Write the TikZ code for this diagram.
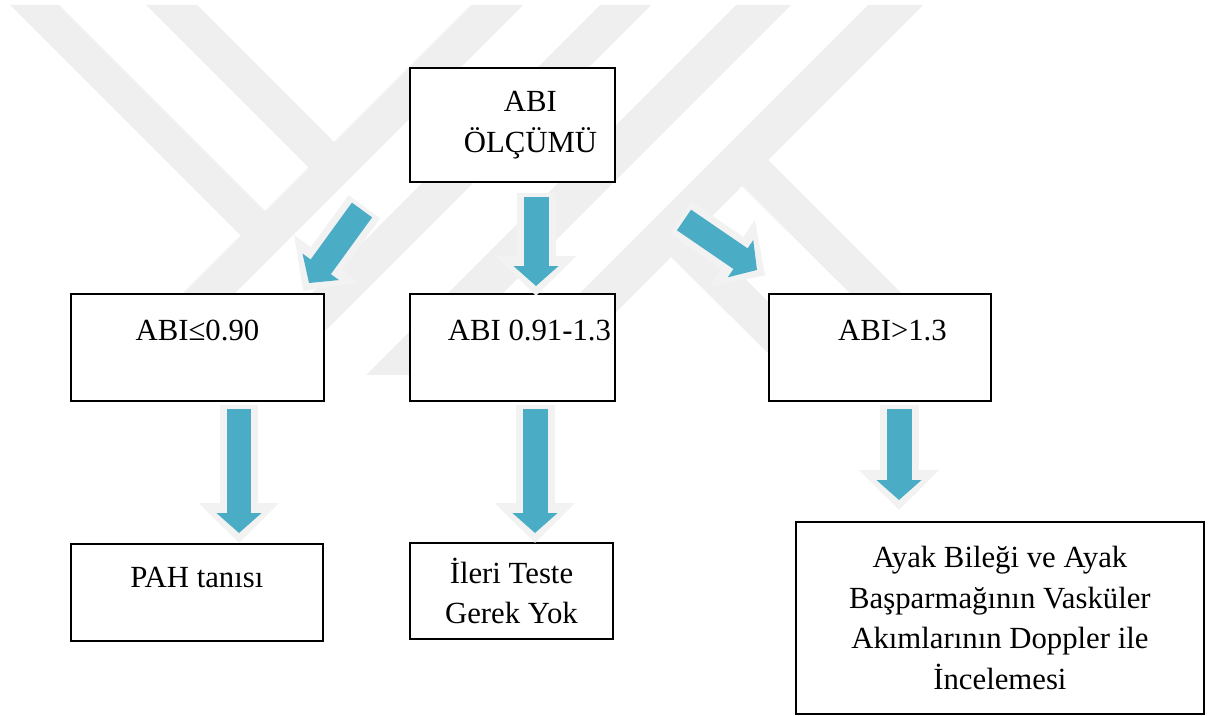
\documentclass[tikz,border=0pt]{standalone}
\usepackage{fontspec}
\setmainfont{Liberation Serif}
\usepackage{tikz}
\usetikzlibrary{arrows.meta, positioning}
\definecolor{yokgray}{RGB}{239,239,239}
\definecolor{glowgray}{RGB}{242,242,242}
\definecolor{flowblue}{RGB}{75,172,198}
\newcommand{\indentr}[1]{\hspace*{#1}} % pushes a centred line to the right
\tikzset{
box/.style={draw, line width=1.1pt, fill=white, inner sep=0pt, anchor=north west, align=center, font=\fontsize{17.5pt}{23pt}\selectfont}, % every box of the chart
flow/.style={draw=flowblue, line width=0.5cm, -{Triangle[width=0.88cm,length=0.4cm]}}, % the blue block arrows
glow/.style={draw=glowgray, line width=0.78cm, -{Triangle[width=1.56cm,length=0.8cm]}, shorten <=-0.08cm, shorten >=-0.2cm}, % light halo behind them
}

\begin{document}
\begin{tikzpicture}[x=0.02cm, y=-0.02cm]
    \useasboundingbox (0,0) rectangle (1218,716);

    % watermark in the background
    \fill[yokgray] (10,5) -- (59,5) -- (265,211) -- (266,261) -- cycle;
    \fill[yokgray] (146,5) -- (197,5) -- (334,142) -- (334,193) -- cycle;
    \fill[yokgray] (471,5) -- (523,5) -- (133,395) -- (81,395) -- cycle;
    \fill[yokgray] (600,5) -- (651,5) -- (281,375) -- (230,375) -- cycle;
    \fill[yokgray] (736,5) -- (791,5) -- (421,375) -- (366,375) -- cycle;
    \fill[yokgray] (868,5) -- (923,5) -- (553,375) -- (498,375) -- cycle;
    \fill[yokgray] (742,186) -- (768,160) -- (983,375) -- (932,375) -- cycle;
    \fill[yokgray] (671,257) -- (697,231) -- (842,375) -- (790,375) -- cycle;

    \node[box, minimum width=4.1cm, minimum height=2.28cm] (abi) at (409,67) {\indentr{0.72cm}ABI\\\indentr{0.72cm}ÖLÇÜMÜ};
    \node[box, minimum width=5.06cm, text height=0.94cm, text depth=1.2cm] (low) at (70,293) {ABI≤0.90};
    \node[box, minimum width=4.1cm, text height=0.94cm, text depth=1.2cm] (mid) at (409,293) {\indentr{0.68cm}ABI 0.91-1.3};
    \node[box, minimum width=4.44cm, text height=0.94cm, text depth=1.2cm] (high) at (768,293) {\indentr{0.5cm}ABI>1.3};
    \node[box, minimum width=5.04cm, text height=0.88cm, text depth=1.06cm] (pah) at (70,543) {PAH tanısı};
    \node[box, minimum width=4.06cm, minimum height=1.92cm] (ileri) at (409,542) {İleri Teste\\Gerek Yok};
    \node[box, minimum width=8.16cm, minimum height=3.84cm] (dop) at (795,521) {Ayak Bileği ve Ayak\\Başparmağının Vasküler\\Akımlarının Doppler ile\\İncelemesi};

    \coordinate (a1s) at (362,210);
    \coordinate (a1e) at (309,283);
    \coordinate (a2s) at (536,197);
    \coordinate (a2e) at (536,286);
    \coordinate (a3s) at (684,220);
    \coordinate (a3e) at (757,270);
    \coordinate (b1s) at (239,409);
    \coordinate (b1e) at (239,533);
    \coordinate (b2s) at (535,409);
    \coordinate (b2e) at (535,533);
    \coordinate (b3s) at (899,409);
    \coordinate (b3e) at (899,500);

    \draw[glow] (a1s) -- (a1e);
    \draw[glow] (a2s) -- (a2e);
    \draw[glow] (a3s) -- (a3e);
    \draw[glow] (b1s) -- (b1e);
    \draw[glow] (b2s) -- (b2e);
    \draw[glow] (b3s) -- (b3e);

    \draw[flow] (a1s) -- (a1e);
    \draw[flow] (a2s) -- (a2e);
    \draw[flow] (a3s) -- (a3e);
    \draw[flow] (b1s) -- (b1e);
    \draw[flow] (b2s) -- (b2e);
    \draw[flow] (b3s) -- (b3e);
\end{tikzpicture}
\end{document}
